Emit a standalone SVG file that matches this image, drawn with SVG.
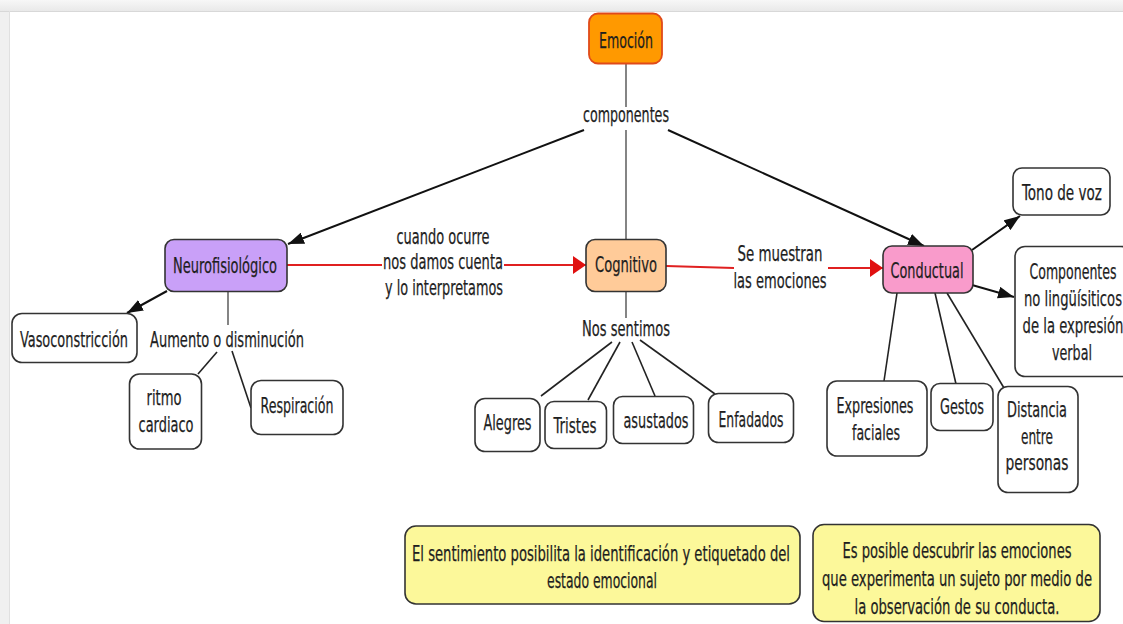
<svg xmlns="http://www.w3.org/2000/svg" width="1123" height="624" viewBox="0 0 1123 624">
<style>
text{font-family:"DejaVu Sans Condensed","DejaVu Sans","Liberation Sans",sans-serif;font-size:22px;fill:#1e1e1e;stroke:#1e1e1e;stroke-width:0.25;text-anchor:middle;font-stretch:condensed}
.box{stroke:#333;stroke-width:1.6}
.w{fill:#fff}
.y{fill:#fcf89a}
.ln{fill:none;stroke:#222;stroke-width:1.6}
.ar{fill:none;stroke:#111;stroke-width:2}
.gr{fill:none;stroke:#666;stroke-width:1.6}
.rd{fill:none;stroke:#e02020;stroke-width:2}
</style>
<defs>
<linearGradient id="top" x1="0" y1="0" x2="0" y2="1">
<stop offset="0" stop-color="#f7f7f7"/><stop offset="1" stop-color="#e9e9e9"/>
</linearGradient>
<marker id="ab" viewBox="0 0 16 12" refX="16" refY="6" markerWidth="16" markerHeight="12" orient="auto" markerUnits="userSpaceOnUse"><path d="M0,0 L16,6 L0,12 Z" fill="#111"/></marker>
<marker id="ar" viewBox="0 0 13 18" refX="13" refY="9" markerWidth="13" markerHeight="18" orient="auto" markerUnits="userSpaceOnUse"><path d="M0,0 L13,9 L0,18 Z" fill="#e01010"/></marker>
</defs>
<rect x="0" y="0" width="1123" height="624" fill="#fff"/>
<rect x="0" y="0" width="1123" height="11" fill="url(#top)"/>
<rect x="0" y="11" width="9" height="613" fill="#f0f0f0"/>
<line x1="0" y1="11.5" x2="1123" y2="11.5" stroke="#d8d8d8"/>
<line x1="9.5" y1="11" x2="9.5" y2="624" stroke="#e0e0e0"/>

<g id="connectors">
<path class="gr" d="M626,64 V107"/>
<path class="ar" d="M584,130 L288,244" marker-end="url(#ab)"/>
<path class="gr" d="M626,130 V239"/>
<path class="ar" d="M668,130 L924,246" marker-end="url(#ab)"/>
<path class="rd" d="M287,265 H382"/>
<path class="rd" d="M504,265 H586" marker-end="url(#ar)"/>
<path class="rd" d="M666,266 L734,268"/>
<path class="rd" d="M828,268 H883" marker-end="url(#ar)"/>
<path class="ar" d="M972,250 L1020,216" marker-end="url(#ab)"/>
<path class="ar" d="M972,285 L1014,297" marker-end="url(#ab)"/>
<path class="ln" d="M897,293 L884,381"/>
<path class="ln" d="M935,293 L956,384"/>
<path class="ln" d="M947,293 L1004,388"/>
<path class="ar" d="M167,291 L127,313" marker-end="url(#ab)"/>
<path class="gr" d="M228,292 V325"/>
<path class="ln" d="M217,352 L198,374"/>
<path class="ln" d="M232,351 L251,408"/>
<path class="gr" d="M626,292 V318"/>
<path class="ln" d="M612,342 L541,396"/>
<path class="ln" d="M620,342 L588,400"/>
<path class="ln" d="M632,342 L655,396"/>
<path class="ln" d="M640,340 L715,394"/>
</g>

<g id="lbl-componentes"><text x="626" y="122" textLength="86" lengthAdjust="spacingAndGlyphs">componentes</text></g>
<g id="lbl-cuando">
<text x="443" y="244" textLength="93" lengthAdjust="spacingAndGlyphs">cuando ocurre</text>
<text x="443" y="269" textLength="120" lengthAdjust="spacingAndGlyphs">nos damos cuenta</text>
<text x="444" y="295" textLength="118" lengthAdjust="spacingAndGlyphs">y lo interpretamos</text>
</g>
<g id="lbl-muestran">
<text x="780" y="261" textLength="85" lengthAdjust="spacingAndGlyphs">Se muestran</text>
<text x="780" y="288" textLength="93" lengthAdjust="spacingAndGlyphs">las emociones</text>
</g>
<g id="lbl-aumento"><text x="227" y="347" textLength="154" lengthAdjust="spacingAndGlyphs">Aumento o disminución</text></g>
<g id="lbl-sentimos"><text x="626" y="336" textLength="88" lengthAdjust="spacingAndGlyphs">Nos sentimos</text></g>

<g id="emocion"><rect x="589" y="13.5" width="73" height="50" rx="9" fill="#ff9900" stroke="#e04a1a" stroke-width="1.8"/><text x="626" y="48" textLength="54" lengthAdjust="spacingAndGlyphs">Emoción</text></g>
<g id="neuro"><rect class="box" x="165" y="239.5" width="122" height="52" rx="9" fill="#c9a0f8"/><text x="225" y="273" textLength="104" lengthAdjust="spacingAndGlyphs">Neurofisiológico</text></g>
<g id="cognitivo"><rect class="box" x="586" y="239.5" width="80" height="52" rx="9" fill="#ffcb99"/><text x="626" y="272" textLength="62" lengthAdjust="spacingAndGlyphs">Cognitivo</text></g>
<g id="conductual"><rect class="box" x="883" y="246" width="90" height="47" rx="9" fill="#f99bcb"/><text x="927" y="278" textLength="73" lengthAdjust="spacingAndGlyphs">Conductual</text></g>

<g id="tono"><rect class="box w" x="1013" y="168" width="97" height="47" rx="9"/><text x="1062" y="200" textLength="80" lengthAdjust="spacingAndGlyphs">Tono de voz</text></g>
<g id="componentes-nl"><rect class="box w" x="1015" y="246.5" width="116" height="130" rx="10"/>
<text x="1073" y="279" textLength="87" lengthAdjust="spacingAndGlyphs">Componentes</text>
<text x="1073" y="306" textLength="98" lengthAdjust="spacingAndGlyphs">no lingüísiticos</text>
<text x="1073" y="333" textLength="101" lengthAdjust="spacingAndGlyphs">de la expresión</text>
<text x="1072" y="360" textLength="40" lengthAdjust="spacingAndGlyphs">verbal</text>
</g>
<g id="expresiones"><rect class="box w" x="827" y="381" width="100" height="75" rx="10"/>
<text x="875" y="413" textLength="77" lengthAdjust="spacingAndGlyphs">Expresiones</text>
<text x="876" y="440" textLength="48" lengthAdjust="spacingAndGlyphs">faciales</text>
</g>
<g id="gestos"><rect class="box w" x="931" y="383.5" width="62" height="47" rx="9"/><text x="962" y="414" textLength="44" lengthAdjust="spacingAndGlyphs">Gestos</text></g>
<g id="distancia"><rect class="box w" x="998" y="386.5" width="80" height="106" rx="10"/>
<text x="1037" y="417" textLength="60" lengthAdjust="spacingAndGlyphs">Distancia</text>
<text x="1037" y="444" textLength="32" lengthAdjust="spacingAndGlyphs">entre</text>
<text x="1037" y="470" textLength="63" lengthAdjust="spacingAndGlyphs">personas</text>
</g>

<g id="vaso"><rect class="box w" x="12" y="313.5" width="125" height="49" rx="10"/><text x="74" y="347" textLength="108" lengthAdjust="spacingAndGlyphs">Vasoconstricción</text></g>
<g id="ritmo"><rect class="box w" x="129.5" y="374" width="72" height="75" rx="10"/>
<text x="164" y="405" textLength="35" lengthAdjust="spacingAndGlyphs">ritmo</text>
<text x="166" y="432" textLength="55" lengthAdjust="spacingAndGlyphs">cardiaco</text>
</g>
<g id="respiracion"><rect class="box w" x="251" y="380.5" width="92" height="54" rx="10"/><text x="297" y="413" textLength="73" lengthAdjust="spacingAndGlyphs">Respiración</text></g>

<g id="alegres"><rect class="box w" x="475" y="398.5" width="65" height="53" rx="10"/><text x="507.5" y="430" textLength="48" lengthAdjust="spacingAndGlyphs">Alegres</text></g>
<g id="tristes"><rect class="box w" x="545" y="401.5" width="61.5" height="47" rx="9"/><text x="575" y="433" textLength="43" lengthAdjust="spacingAndGlyphs">Tristes</text></g>
<g id="asustados"><rect class="box w" x="613.5" y="396.5" width="80" height="47" rx="9"/><text x="656" y="428" textLength="65" lengthAdjust="spacingAndGlyphs">asustados</text></g>
<g id="enfadados"><rect class="box w" x="708.5" y="393.5" width="85" height="49" rx="10"/><text x="751" y="427" textLength="65" lengthAdjust="spacingAndGlyphs">Enfadados</text></g>

<g id="nota-sentimiento"><rect class="box y" x="405" y="526" width="395" height="78" rx="11"/>
<text x="601" y="561" textLength="378" lengthAdjust="spacingAndGlyphs">El sentimiento posibilita la identificación y etiquetado del</text>
<text x="602" y="588" textLength="110" lengthAdjust="spacingAndGlyphs">estado emocional</text>
</g>
<g id="nota-conducta"><rect class="box y" x="813" y="524.5" width="287" height="97" rx="11"/>
<text x="957" y="558" textLength="229" lengthAdjust="spacingAndGlyphs">Es posible descubrir las emociones</text>
<text x="957" y="586" textLength="270" lengthAdjust="spacingAndGlyphs">que experimenta un sujeto por medio de</text>
<text x="957" y="614" textLength="205" lengthAdjust="spacingAndGlyphs">la observación de su conducta.</text>
</g>
</svg>
